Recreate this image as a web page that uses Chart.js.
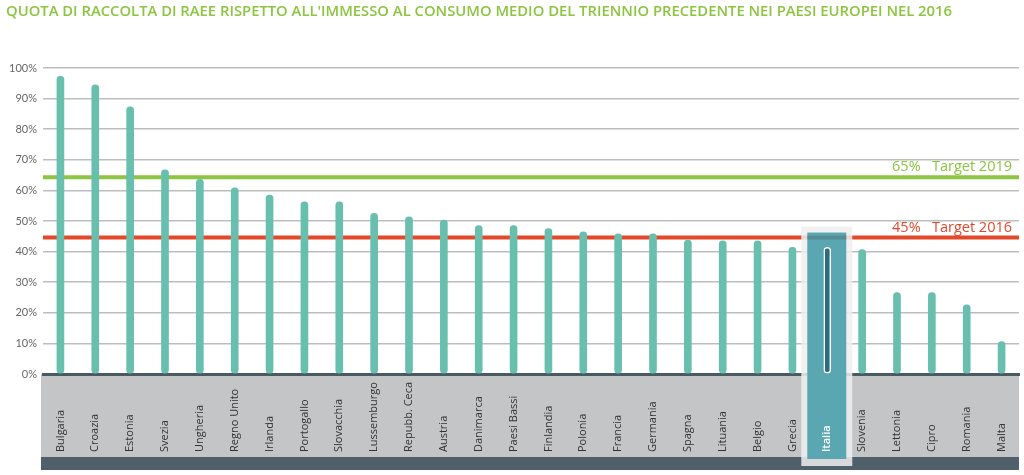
<!DOCTYPE html>
<html>
<head>
<meta charset="utf-8">
<script src="https://cdn.jsdelivr.net/npm/chart.js@4.4.1/dist/chart.umd.min.js"></script>
<style>
  html, body { margin: 0; padding: 0; background: #fff; }
  #wrap { width: 1024px; height: 475px; }
</style>
</head>
<body>
<div id="wrap"><canvas id="raeeChart"></canvas></div>
<script>
// Data
const countries = ['Bulgaria', 'Croazia', 'Estonia', 'Svezia', 'Ungheria', 'Regno Unito', 'Irlanda',
    'Portogallo', 'Slovacchia', 'Lussemburgo', 'Repubb. Ceca', 'Austria', 'Danimarca', 'Paesi Bassi',
    'Finlandia', 'Polonia', 'Francia', 'Germania', 'Spagna', 'Lituania', 'Belgio', 'Grecia', 'Italia',
    'Slovenia', 'Lettonia', 'Cipro', 'Romania', 'Malta'];
const quota = [97.3, 94.5, 87.3, 66.7, 63.6, 60.8, 58.5, 56.3, 56.3, 52.5, 51.4, 50.3, 48.5, 48.5,
    47.5, 46.5, 45.8, 45.8, 43.8, 43.5, 43.5, 41.4, 41.4, 40.7, 26.6, 26.6, 22.6, 10.6];
const target2019 = 64.3;
const target2016 = 44.6;
const targetLabels = ['65%   Target 2019', '45%   Target 2016'];
const yTicks = [0, 10, 20, 30, 40, 50, 60, 70, 80, 90, 100];
const highlight = 'Italia';
const title = "QUOTA DI RACCOLTA DI RAEE RISPETTO ALL'IMMESSO AL CONSUMO MEDIO DEL TRIENNIO PRECEDENTE NEI PAESI EUROPEI NEL 2016";

const GREEN = '#8cc540';
const RED = '#e4482b';
const TEAL = '#68bfae';

const hiIndex = countries.indexOf(highlight);
const xEdges = [-0.5, countries.length - 0.5];

// grey label band, title, highlight column and labels
const decorPlugin = {
    id: 'decor',
    beforeDraw(chart) {
        const { ctx, chartArea } = chart;
        ctx.save();
        ctx.fillStyle = '#c3c5c7';
        ctx.fillRect(chartArea.left - 2, chartArea.bottom, chartArea.right - chartArea.left + 2, 83);
        ctx.fillStyle = '#4f606a';
        ctx.fillRect(chartArea.left - 2, chartArea.bottom + 83, chartArea.right - chartArea.left + 2, 13);

        ctx.fillStyle = GREEN;
        ctx.font = '600 14.8px "Open Sans"';
        ctx.textBaseline = 'middle';
        ctx.fillText(title, 6, 12);
        ctx.restore();
    },
    afterDatasetDraw(chart, args) {
        if (args.index !== 0) return;
        // highlight column drawn over the target lines, below the bars
        const { ctx, chartArea } = chart;
        const x = chart.scales.x.getPixelForValue(hiIndex);
        const y = chart.scales.y;
        const lineY = y.getPixelForValue(target2016);
        const top = lineY - 5;
        ctx.save();
        ctx.fillStyle = 'rgba(238,239,240,0.85)';
        ctx.fillRect(x - 26, top - 6, 51, chartArea.bottom + 92 - top + 6);
        ctx.fillStyle = '#5ba7b1';
        ctx.fillRect(x - 20, top, 39, chartArea.bottom + 85 - top);
        ctx.fillStyle = 'rgba(70,80,80,0.3)';
        ctx.fillRect(x - 20, lineY - 2, 39, 4);
        ctx.restore();
    },
    afterDraw(chart) {
        const { ctx, chartArea } = chart;
        const xs = chart.scales.x;
        const ys = chart.scales.y;
        ctx.save();
        ctx.textAlign = 'left';
        ctx.textBaseline = 'middle';
        countries.forEach((c, i) => {
            const x = xs.getPixelForValue(i);
            ctx.save();
            ctx.translate(x, chartArea.bottom + 78);
            ctx.rotate(-Math.PI / 2);
            ctx.fillStyle = i === hiIndex ? '#ffffff' : '#333333';
            ctx.font = i === hiIndex ? '600 11px "Open Sans"' : '11px "Open Sans"';
            ctx.fillText(c, 0, 0);
            ctx.restore();
        });

        ctx.font = '14.5px "Open Sans"';
        ctx.textAlign = 'right';
        ctx.textBaseline = 'middle';
        ctx.fillStyle = GREEN;
        ctx.fillText(targetLabels[0], chartArea.right - 7, ys.getPixelForValue(target2019) - 10);
        ctx.fillStyle = RED;
        ctx.fillText(targetLabels[1], chartArea.right - 7, ys.getPixelForValue(target2016) - 10);
        ctx.restore();
    }
};

new Chart(document.getElementById('raeeChart'), {
    type: 'bar',
    data: {
        labels: countries,
        datasets: [
            {
                type: 'line',
                xAxisID: 'xLine',
                data: xEdges.map(x => ({ x, y: target2016 })),
                borderColor: RED,
                borderWidth: 4,
                pointRadius: 0,
                order: 3
            },
            {
                type: 'line',
                xAxisID: 'xLine',
                data: xEdges.map(x => ({ x, y: target2019 })),
                borderColor: GREEN,
                borderWidth: 4,
                pointRadius: 0,
                order: 2
            },
            {
                data: quota,
                backgroundColor: countries.map((c, i) => i === hiIndex ? '#2e6c7c' : TEAL),
                borderColor: countries.map((c, i) => i === hiIndex ? '#ffffff' : TEAL),
                borderWidth: countries.map((c, i) => i === hiIndex ? 1.5 : 0),
                borderSkipped: false,
                borderRadius: 4,
                barThickness: 7,
                grouped: false,
                order: 1
            }
        ]
    },
    options: {
        responsive: true,
        maintainAspectRatio: false,
        animation: false,
        layout: { padding: { top: 68, right: 5, left: 0, bottom: 0 } },
        scales: {
            x: {
                offset: true,
                grid: { display: false, drawTicks: false },
                border: { display: true, color: '#4a5a63', width: 3 },
                ticks: { display: false },
                afterFit: s => { s.height = 101; }
            },
            xLine: {
                type: 'linear',
                axis: 'x',
                position: 'bottom',
                offset: false,
                min: xEdges[0],
                max: xEdges[1],
                grid: { display: false, drawTicks: false },
                border: { display: false },
                ticks: { display: false },
                afterFit: s => { s.height = 0; s.paddingLeft = 0; s.paddingRight = 0; }
            },
            y: {
                min: 0,
                max: 100,
                afterBuildTicks: s => { s.ticks = yTicks.map(v => ({ value: v })); },
                grid: { color: '#bbbdbf', lineWidth: 1.5, drawTicks: false },
                border: { display: false },
                ticks: {
                    padding: 6,
                    color: '#666666',
                    font: { family: 'Lato', size: 11 },
                    callback: v => v + '%'
                },
                afterFit: s => { s.width = 43; }
            }
        },
        plugins: {
            legend: { display: false },
            tooltip: { enabled: false }
        }
    },
    plugins: [decorPlugin]
});
</script>
</body>
</html>
